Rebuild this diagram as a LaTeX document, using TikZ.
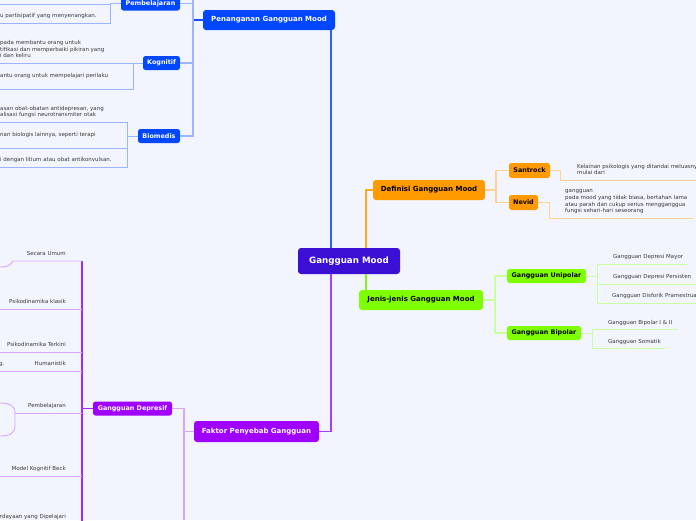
\documentclass[tikz,border=0pt]{standalone}
\usepackage{fontspec}
\setmainfont{DejaVu Sans}
\usetikzlibrary{positioning}

\definecolor{bgpale}{HTML}{F2F5FE}
\definecolor{moodindigo}{HTML}{3B10D4}
\definecolor{tblue}{HTML}{0047FF}
\definecolor{bluemid}{HTML}{2E62FF}
\definecolor{bluedeep}{HTML}{1A4DFF}
\definecolor{bluelt}{HTML}{9BB4FF}
\definecolor{dorange}{HTML}{FF9A00}
\definecolor{orangemain}{HTML}{FFA826}
\definecolor{orangelt}{HTML}{FFD293}
\definecolor{jgreen}{HTML}{80FF00}
\definecolor{greenmain}{HTML}{88F020}
\definecolor{greenlt}{HTML}{C9FFA0}
\definecolor{fpurple}{HTML}{A000FF}
\definecolor{purplemain}{HTML}{AD3BFF}
\definecolor{purplemid}{HTML}{A626FF}
\definecolor{purplelt}{HTML}{D9A6FF}
\definecolor{leaftext}{HTML}{3A3A3A}

\tikzset{
  topic/.style={rounded corners=3pt, inner sep=0pt, minimum height=20pt, font=\fontsize{7}{8}\selectfont\bfseries},
  subtopic/.style={rounded corners=2.5pt, inner sep=0pt, minimum height=14pt, font=\fontsize{6.4}{7.5}\selectfont\bfseries},
  leaf/.style={inner xsep=0pt, inner ysep=3pt, font=\fontsize{5.5}{6.7}\selectfont, text=leaftext, align=left,
    execute at begin node=\strut, execute at end node=\strut},
  mainline/.style={line width=1.4pt},
  subline/.style={line width=1.1pt},
  leafline/.style={line width=0.9pt},
}

\begin{document}
\begin{tikzpicture}[x=1pt, y=-1pt]
\useasboundingbox (0,0) rectangle (696,520);
\fill[bgpale] (0,0) rectangle (696,520);
\clip (0,0) rectangle (696,520);
\coordinate (lft) at (0,0);
\coordinate (rgt) at (696,0);

% centre
\node[topic, fill=moodindigo, text=white, minimum width=102pt, minimum height=26pt,
  font=\fontsize{8.7}{10}\selectfont\bfseries] (mood) at (349,261) {Gangguan Mood};

% main topics
\node[topic, fill=tblue, text=white, minimum width=132pt] (tangani) at (269,20) {Penanganan Gangguan Mood};
\node[topic, fill=dorange, minimum width=112pt] (defin) at (429,190) {Definisi Gangguan Mood};
\node[topic, fill=jgreen, minimum width=124pt] (jenis) at (421,300) {Jenis-jenis Gangguan Mood};
\node[topic, fill=fpurple, text=white, minimum width=125pt, minimum height=21pt] (faktor) at (256.5,431.5) {Faktor Penyebab Gangguan};

% subtopics
\node[subtopic, fill=tblue, text=white, minimum width=59pt] (belajar) at (150.5,3.5) {Pembelajaran};
\node[subtopic, fill=tblue, text=white, minimum width=37pt] (kognitif) at (161.5,63) {Kognitif};
\node[subtopic, fill=tblue, text=white, minimum width=42pt] (biomedis) at (159,136) {Biomedis};
\node[subtopic, fill=dorange, minimum width=41pt, minimum height=15pt] (santrock) at (529.5,170.5) {Santrock};
\node[subtopic, fill=dorange, minimum width=29pt, minimum height=15pt] (nevid) at (523.5,202.5) {Nevid};
\node[subtopic, fill=jgreen, minimum width=79pt] (unipolar) at (546.5,276) {Gangguan Unipolar};
\node[subtopic, fill=jgreen, minimum width=74pt] (bipolar) at (544,333) {Gangguan Bipolar};
\node[subtopic, fill=fpurple, text=white, minimum width=79pt] (depresif) at (132.5,408.5) {Gangguan Depresif};

% leaves, penanganan
\node[leaf, anchor=south west] (b2) at (0,23) {u partisipatif yang menyenangkan.};
\node[leaf, anchor=south west] (k1) at (0,63) {pada membantu orang untuk\\tifikasi dan memperbaiki pikiran yang\\i dan keliru};
\node[leaf, anchor=south west] (k2) at (0,89) {antu orang untuk mempelajari perilaku\\};
\node[leaf, anchor=south west] (m1) at (0,122) {asan obat-obatan antidepresan, yang\\alisasi fungsi neurotransmiter otak};
\node[leaf, anchor=south west] (m2) at (0,148) {nan biologis lainnya, seperti terapi\\};
\node[leaf, anchor=south west] (m3) at (0,167) {i dengan litium atau obat antikonvulsan.};

% leaves, definisi and jenis
\node[leaf, anchor=south west] (s1) at (577,180) {Kelainan psikologis yang ditandai meluasny\\mulai dari};
\node[leaf, anchor=south west] (n1) at (565,218) {gangguan\\pada mood yang tidak biasa, bertahan lama\\atau parah dan cukup serius mengganggua\\fungsi sehari-hari seseorang};
\node[leaf, anchor=south west] (u1) at (613,264) {Gangguan Depresi Mayor};
\node[leaf, anchor=south west] (u2) at (613,284) {Gangguan Depresi Persisten};
\node[leaf, anchor=south west] (u3) at (612,303) {Gangguan Disforik Pramestrua};
\node[leaf, anchor=south west] (p1) at (608,329.5) {Gangguan Bipolar I \& II};
\node[leaf, anchor=south west] (p2) at (608,348.5) {Gangguan Somatik};

% leaves, depresif
\node[leaf, anchor=south east] (d1) at (66,261) {Secara Umum};
\node[leaf, anchor=south east] (d2) at (66,309) {Psikodinamika klasik};
\node[leaf, anchor=south east] (d3) at (66,352) {Psikodinamika Terkini};
\node[leaf, anchor=south east] (d4) at (66,371) {Humanistik};
\node[leaf, anchor=south east] (d4a) at (4.5,371) {g.};
\node[leaf, anchor=south east] (d5) at (66,413) {Pembelajaran};
\node[leaf, anchor=south east] (d6) at (66,476) {Model Kognitif Beck};
\node[leaf, anchor=south east] (d7) at (66,524) {rdayaan yang Dipelajari};

% blue branch
\draw[mainline, bluemid] (mood.north -| 331,0) -- (tangani.south -| 331,0);
\coordinate (tk) at (193,0);
\draw[subline, bluedeep] (tangani.west) -- (tangani.west -| tk);
\draw[subline, bluelt] (tk) -- (tk |- biomedis.east) -- (biomedis.east);
\draw[subline, bluelt] (belajar.east) -- (belajar.east -| tk);
\draw[subline, bluelt] (kognitif.east) -- (kognitif.east -| tk);

\coordinate (bk) at (110,4);
\draw[leafline, bluelt] (belajar.west) -- (bk |- belajar.west);
\draw[leafline, bluelt] (lft |- bk) -- (bk) -- (bk |- b2.south) -- (b2.south west);
\coordinate (kk) at (133,63);
\draw[leafline, bluelt] (kognitif.west) -- (kk |- kognitif.west);
\draw[leafline, bluelt] (k1.south west) -- (kk |- k1.south) -- (kk |- k2.south) -- (k2.south west);
\coordinate (mk) at (127,136);
\draw[leafline, bluelt] (biomedis.west) -- (mk |- biomedis.west);
\draw[leafline, bluelt] (m1.south west) -- (mk |- m1.south) -- (mk |- m3.south) -- (m3.south west);
\draw[leafline, bluelt] (m2.south west) -- (mk |- m2.south);

% orange branch
\draw[mainline, orangemain] (mood.north -| 366,0) |- (defin.west);
\coordinate (dk) at (496,190);
\draw[subline, orangelt] (defin.east) -- (dk);
\draw[subline, orangelt] (santrock.west) -| (dk) |- (nevid.west);
\coordinate (sk) at (560,170);
\draw[leafline, orangelt] (santrock.east) -- (sk |- santrock.east) -- (sk |- s1.south) -- (rgt |- s1.south);
\coordinate (nk) at (549,203);
\draw[leafline, orangelt] (nevid.east) -- (nk |- nevid.east) -- (nk |- n1.south) -- ([xshift=5pt]n1.south east);

% green branch
\draw[mainline, greenmain] (mood.south -| 366,0) -- (jenis.north -| 366,0);
\coordinate (jk) at (495,300);
\draw[subline, greenlt] (jenis.east) -- (jk);
\draw[subline, greenlt] (unipolar.west) -| (jk) |- (bipolar.west);
\coordinate (uk) at (597,276);
\draw[leafline, greenlt] (unipolar.east) -- (uk);
\draw[leafline, greenlt] ([xshift=4pt]u1.south east) -- (uk |- u1.south) -- (uk |- u3.south) -- (rgt |- u3.south);
\draw[leafline, greenlt] (uk |- u2.south) -- (rgt |- u2.south);
\coordinate (pk) at (592,333);
\draw[leafline, greenlt] (bipolar.east) -- (pk);
\draw[leafline, greenlt] ([xshift=6pt]p1.south east) -- (pk |- p1.south) -- (pk |- p2.south) -- ([xshift=4pt]p2.south east);

% purple branch
\draw[mainline, purplemain] (mood.south -| 331,0) |- (faktor.east);
\coordinate (fk) at (184,520);
\draw[subline, purplelt] (faktor.west) -- (faktor.west -| fk);
\draw[subline, purplelt] (depresif.east) -- (depresif.east -| fk) -- (fk);
\coordinate (ek) at (82,408.5);
\coordinate (ekb) at (82,524);
\draw[subline, purplemid] (depresif.west) -- (ek);
\draw[subline, purplemid] (ek |- d1.south) -- (ekb);
\coordinate (dc1) at (13,261);
\coordinate (dc2) at (0,267);
\draw[leafline, purplelt] (ek |- d1.south) -- (dc1) .. controls (10,266) and (6,267) .. (dc2);
\draw[leafline, purplelt] (ek |- d2.south) -- (lft |- d2.south);
\draw[leafline, purplelt] (ek |- d3.south) -- (lft |- d3.south);
\draw[leafline, purplelt] (ek |- d4.south) -- (lft |- d4.south);
\coordinate (dc5) at (15,413);
\draw[leafline, purplelt] (ek |- d5.south) -- (dc5);
\draw[leafline, purplelt] (0,403) .. controls (10,403) and (15,406) .. (dc5)
  -- (15,426) .. controls (15,433) and (10,436) .. (0,436);
\draw[leafline, purplelt] (ek |- d6.south) -- (lft |- d6.south);
\draw[leafline, purplelt] (ek |- d7.south) -- (lft |- d7.south);
\end{tikzpicture}
\end{document}
